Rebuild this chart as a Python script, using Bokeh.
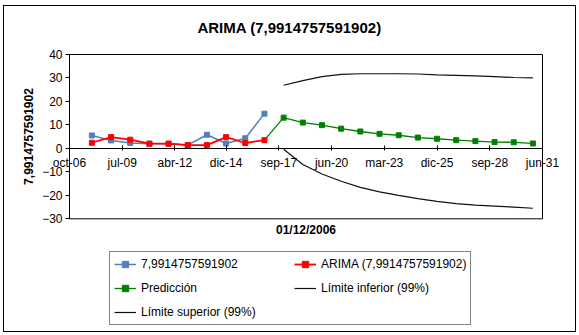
from bokeh.plotting import figure
from bokeh.models import Range1d, FixedTicker, Legend, LegendItem, Label
from bokeh.embed import file_html
from bokeh.resources import INLINE

FONT = "Liberation Sans"

# ---- data ----
tick_dates = ["2006-10", "2009-07", "2012-04", "2014-12", "2017-09",
              "2020-06", "2023-03", "2025-12", "2028-09", "2031-06"]
tick_labels = ["oct-06", "jul-09", "abr-12", "dic-14", "sep-17",
               "jun-20", "mar-23", "dic-25", "sep-28", "jun-31"]
y_ticks = [-30, -20, -10, 0, 10, 20, 30, 40]

hist_dates = ["2007-12", "2008-12", "2009-12", "2010-12", "2011-12",
              "2012-12", "2013-12", "2014-12", "2015-12", "2016-12"]
observed = [5.5, 3.4, 2.3, 2.0, 2.0, 1.4, 5.8, 2.1, 4.3, 14.8]
arima = [2.4, 4.8, 3.7, 2.0, 2.0, 1.4, 1.4, 4.8, 2.3, 3.5]

pred_dates = ["2016-12", "2017-12", "2018-12", "2019-12", "2020-12", "2021-12",
              "2022-12", "2023-12", "2024-12", "2025-12", "2026-12", "2027-12",
              "2028-12", "2029-12", "2030-12"]
prediction = [3.5, 13.1, 11.0, 9.9, 8.4, 7.2, 6.2, 5.6, 4.6, 4.1, 3.5, 3.1, 2.7, 2.6, 2.1]

band_dates = ["2017-12", "2018-12", "2019-12", "2020-12", "2021-12", "2022-12",
              "2023-12", "2024-12", "2025-12", "2026-12", "2027-12", "2028-12",
              "2029-12", "2030-12"]
lower = [-0.4, -6.9, -10.9, -14.0, -16.6, -18.5, -20.0, -21.4, -22.6, -23.5,
         -24.2, -24.6, -25.0, -25.5]
upper = [26.9, 28.9, 30.6, 31.5, 31.8, 31.8, 31.8, 31.7, 31.3, 31.1, 30.9,
         30.6, 30.2, 30.0]

series_names = ["7,9914757591902", "ARIMA (7,9914757591902)", "Predicción",
                "Límite inferior (99%)", "Límite superior (99%)"]
title_text = "ARIMA (7,9914757591902)"
y_title = "7,9914757591902"
x_title = "01/12/2006"


def months(s):
    y, m = map(int, s.split("-"))
    return (y - 2006) * 12 + (m - 10)


xt = [months(d) for d in tick_dates]
xh = [months(d) for d in hist_dates]
xp = [months(d) for d in pred_dates]
xb = [months(d) for d in band_dates]

# ---- layout (pixels inside the figure) ----
W, H = 571, 325
PA_L, PA_R, PA_T, PA_B = 65, 538, 48, 212.3   # plot-area box in figure px
x0, x1 = xt[0], xt[-1]
y0, y1 = y_ticks[0], y_ticks[-1]
sx = (PA_R - PA_L) / (x1 - x0)
sy = (PA_B - PA_T) / (y1 - y0)
xr = Range1d(x0 - PA_L / sx, x1 + (W - PA_R) / sx)
yr = Range1d(y0 - (H - PA_B) / sy, y1 + PA_T / sy)

p = figure(width=W, height=H, output_backend="svg", toolbar_location=None,
           x_range=xr, y_range=yr,
           min_border=0, min_border_left=0, min_border_right=0,
           min_border_top=0, min_border_bottom=0,
           background_fill_color="white", border_fill_color="white")
p.margin = (6, 0, 0, 4)
p.styles = {"outline": "1px solid black"}
p.outline_line_color = None
p.grid.visible = False

# plot-area box
p.quad(left=[x0], right=[x1], bottom=[y0], top=[y1], fill_color=None,
       line_color="black", line_width=1)

# axes
xa = p.xaxis[0]
xa.fixed_location = 0
xa.bounds = (x0, x1)
xa.ticker = FixedTicker(ticks=xt)
xa.major_label_overrides = {t: l for t, l in zip(xt, tick_labels)}
xa.major_tick_in = 3
xa.major_tick_out = 2
xa.minor_tick_in = 0
xa.minor_tick_out = 0
xa.major_label_standoff = 6
xa.major_label_text_font = FONT
xa.major_label_text_font_size = "12px"
xa.major_label_text_color = "black"
xa.axis_line_color = "black"
xa.major_tick_line_color = "black"

ya = p.yaxis[0]
ya.fixed_location = x0
ya.bounds = (y0, y1)
ya.ticker = FixedTicker(ticks=y_ticks)
ya.major_tick_in = 0
ya.major_tick_out = 4
ya.minor_tick_in = 0
ya.minor_tick_out = 0
ya.major_label_standoff = 3
ya.major_label_text_font = FONT
ya.major_label_text_font_size = "12px"
ya.major_label_text_color = "black"
ya.axis_label = y_title
ya.axis_label_text_font = FONT
ya.axis_label_text_font_size = "12px"
ya.axis_label_text_font_style = "bold"
ya.axis_label_text_color = "black"
ya.axis_label_standoff = 6
ya.axis_line_color = "black"
ya.major_tick_line_color = "black"

BLUE = "#4F81BD"
RED = "#FF0000"
GREEN = "#008000"
DARK = "#111111"

r_up = p.line(xb, upper, line_color=DARK, line_width=1.2)
r_lo = p.line(xb, lower, line_color=DARK, line_width=1.2)
gl = p.line(xp, prediction, line_color=GREEN, line_width=1.3)
gs = p.scatter(xp[1:], prediction[1:], marker="square", size=5,
               fill_color=GREEN, line_color=GREEN)
bl = p.line(xh, observed, line_color=BLUE, line_width=1.5)
bs = p.scatter(xh, observed, marker="square", size=5, fill_color=BLUE, line_color=BLUE)
rl = p.line(xh, arima, line_color=RED, line_width=1.8)
rs = p.scatter(xh, arima, marker="square", size=5, fill_color=RED, line_color=RED)

legend = Legend(items=[
    LegendItem(label=series_names[0], renderers=[bl, bs]),
    LegendItem(label=series_names[1], renderers=[rl, rs]),
    LegendItem(label=series_names[2], renderers=[gl, gs]),
    LegendItem(label=series_names[3], renderers=[r_lo]),
    LegendItem(label=series_names[4], renderers=[r_up]),
], location=(105, 6), orientation="horizontal", ncols=2)
legend.margin = 0
legend.padding = 4
legend.spacing = 8
legend.label_width = 145
legend.label_height = 16
legend.glyph_height = 16
legend.glyph_width = 22
legend.label_standoff = 5
legend.label_text_font = FONT
legend.label_text_font_size = "12px"
legend.label_text_color = "black"
legend.border_line_color = "black"
legend.border_line_width = 1
legend.background_fill_color = "white"
legend.background_fill_alpha = 1
p.add_layout(legend, "center")

xmid = (x0 + x1) / 2
p.add_layout(Label(x=xmid - 10.3, y=y1 + 11.5, text=title_text, text_align="center",
                   text_baseline="middle", text_font=FONT, text_font_size="15px",
                   text_font_style="bold", text_color="black"))
p.add_layout(Label(x=xmid, y=y0 - 4.6, text=x_title, text_align="center",
                   text_baseline="middle", text_font=FONT, text_font_size="12px",
                   text_font_style="bold", text_color="black"))

open("out.html", "w").write(file_html(p, INLINE))
